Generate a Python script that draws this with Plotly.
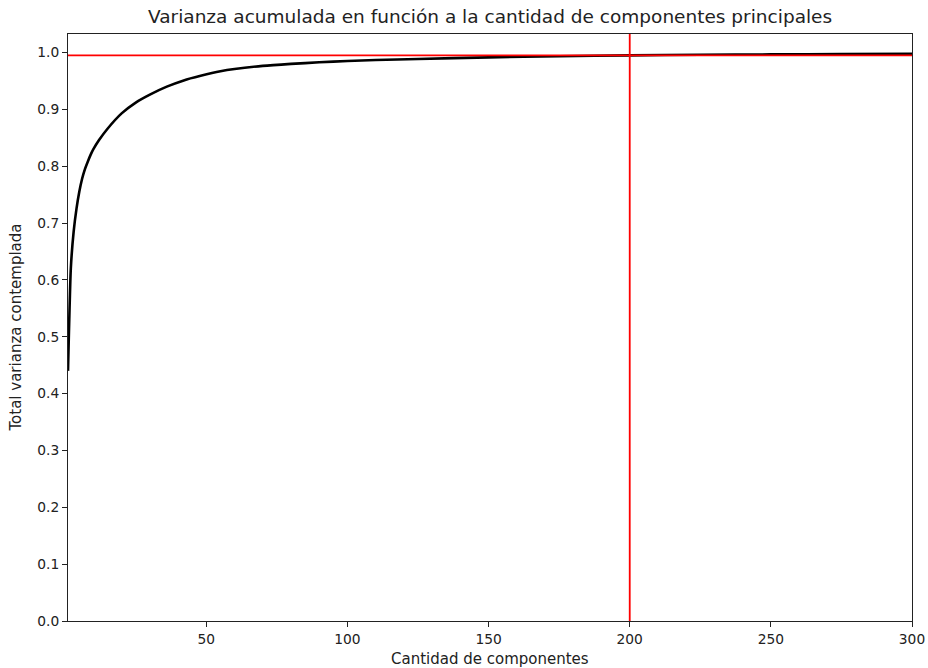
import plotly.graph_objects as go

# Cumulative explained variance by number of principal components
n_components = [1, 2, 3, 4, 5, 6, 7, 8, 9, 10, 12, 15, 20, 25, 30, 36, 42, 48, 55,
                60, 70, 80, 90, 100, 110, 125, 150, 175, 200, 225, 250, 275, 300]
cum_variance = [0.44, 0.62, 0.685, 0.725, 0.755, 0.778, 0.795, 0.808, 0.82, 0.83,
                0.846, 0.866, 0.893, 0.912, 0.926, 0.940, 0.951, 0.959, 0.967,
                0.971, 0.9765, 0.980, 0.9828, 0.985, 0.9868, 0.9887, 0.9915,
                0.9935, 0.995, 0.996, 0.9967, 0.9972, 0.9976]

threshold = 0.995
chosen_components = 200

x_ticks = [50, 100, 150, 200, 250, 300]
y_ticks = [round(i * 0.1, 1) for i in range(11)]

FONT = "DejaVu Sans"
INK = "#222"

fig = go.Figure()
fig.add_trace(go.Scatter(
    x=n_components, y=cum_variance, mode="lines",
    line=dict(color="black", width=2.6, shape="spline", smoothing=0.5),
    showlegend=False, hoverinfo="x+y",
))

# threshold lines
fig.add_shape(type="line", xref="paper", x0=0, x1=1, yref="y",
              y0=threshold, y1=threshold, line=dict(color="red", width=1.8))
fig.add_shape(type="line", yref="paper", y0=0, y1=1, xref="x",
              x0=chosen_components, x1=chosen_components,
              line=dict(color="red", width=1.8))

axis_common = dict(
    showline=True, mirror=True, linecolor=INK, linewidth=1,
    ticks="outside", ticklen=5, tickwidth=1, tickcolor=INK,
    showgrid=False, zeroline=False, automargin=False,
    tickfont=dict(family=FONT, size=13.8, color=INK),
)

fig.update_xaxes(range=[1, 300], tickvals=x_ticks, **axis_common)
fig.update_yaxes(range=[0, 1.0326], tickvals=y_ticks, tickformat=".1f", **axis_common)

fig.update_layout(
    width=928, height=668,
    margin=dict(l=68, r=16, t=34, b=47),
    plot_bgcolor="white", paper_bgcolor="white",
    font=dict(family=FONT, color=INK),
    annotations=[
        dict(text="Varianza acumulada en función a la cantidad de componentes principales",
             xref="paper", yref="paper", x=0.5, y=1, yanchor="bottom", yshift=5,
             showarrow=False, font=dict(family=FONT, size=18.5, color=INK)),
        dict(text="Cantidad de componentes", xref="paper", yref="paper",
             x=0.5, y=0, yanchor="top", yshift=-27, showarrow=False,
             font=dict(family=FONT, size=15, color=INK)),
        dict(text="Total varianza contemplada", xref="paper", yref="paper",
             x=0, y=0.5, xanchor="right", xshift=-42, textangle=-90,
             showarrow=False, font=dict(family=FONT, size=15, color=INK)),
    ],
)

fig.write_html("out.html")
